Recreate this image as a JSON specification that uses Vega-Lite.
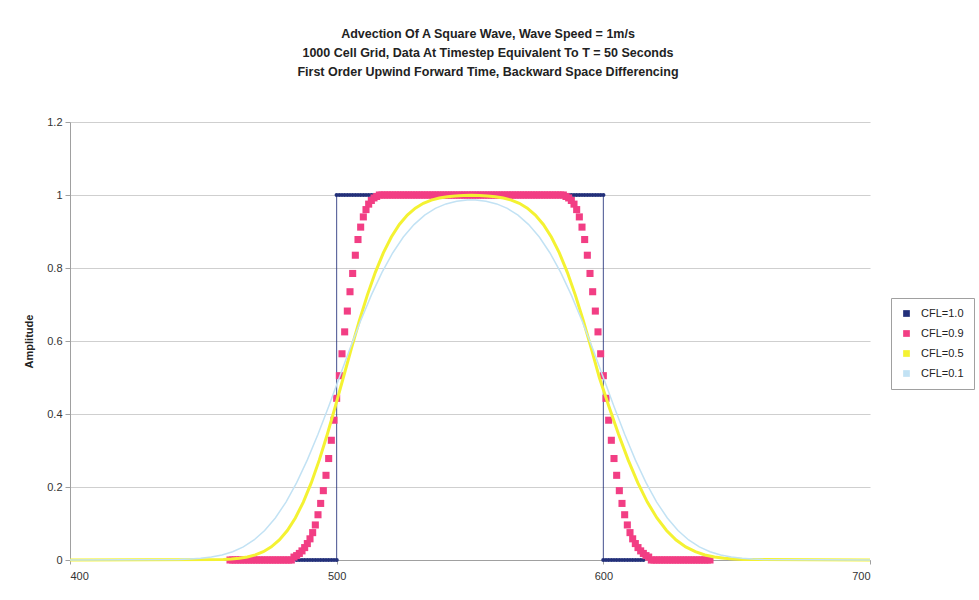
{
  "$schema": "https://vega.github.io/schema/vega-lite/v6.json",
  "width": 800,
  "height": 438,
  "autosize": {"type": "none"},
  "padding": {"left": 70, "top": 122, "right": 109, "bottom": 40},
  "background": "white",
  "title": {
    "text": ["Advection Of A Square Wave, Wave Speed = 1m/s", "1000 Cell Grid, Data At Timestep Equivalent To T = 50 Seconds", "First Order Upwind Forward Time, Backward Space Differencing"],
    "anchor": "middle", "frame": "group", "dx": 18, "offset": 38,
    "font": "Liberation Sans", "fontSize": 12.5, "fontWeight": "bold", "color": "#222222", "lineHeight": 19
  },
  "datasets": {
    "d10": [
      {"k":0,"x":485,"y":0},{"k":1,"x":486,"y":0},{"k":2,"x":487,"y":0},{"k":3,"x":488,"y":0},{"k":4,"x":489,"y":0},{"k":5,"x":490,"y":0},{"k":6,"x":491,"y":0},{"k":7,"x":492,"y":0},{"k":8,"x":493,"y":0},{"k":9,"x":494,"y":0},{"k":10,"x":495,"y":0},{"k":11,"x":496,"y":0},{"k":12,"x":497,"y":0},{"k":13,"x":498,"y":0},{"k":14,"x":499,"y":0},{"k":15,"x":500,"y":0},
      {"k":16,"x":500,"y":1},{"k":17,"x":501,"y":1},{"k":18,"x":502,"y":1},{"k":19,"x":503,"y":1},{"k":20,"x":504,"y":1},{"k":21,"x":505,"y":1},{"k":22,"x":506,"y":1},{"k":23,"x":507,"y":1},{"k":24,"x":508,"y":1},{"k":25,"x":509,"y":1},{"k":26,"x":510,"y":1},{"k":27,"x":511,"y":1},{"k":28,"x":512,"y":1},{"k":29,"x":513,"y":1},{"k":30,"x":514,"y":1},{"k":31,"x":515,"y":1},{"k":32,"x":516,"y":1},{"k":33,"x":517,"y":1},{"k":34,"x":518,"y":1},{"k":35,"x":519,"y":1},{"k":36,"x":520,"y":1},{"k":37,"x":521,"y":1},{"k":38,"x":522,"y":1},{"k":39,"x":523,"y":1},{"k":40,"x":524,"y":1},{"k":41,"x":525,"y":1},{"k":42,"x":526,"y":1},{"k":43,"x":527,"y":1},{"k":44,"x":528,"y":1},{"k":45,"x":529,"y":1},{"k":46,"x":530,"y":1},{"k":47,"x":531,"y":1},{"k":48,"x":532,"y":1},{"k":49,"x":533,"y":1},{"k":50,"x":534,"y":1},{"k":51,"x":535,"y":1},{"k":52,"x":536,"y":1},{"k":53,"x":537,"y":1},{"k":54,"x":538,"y":1},{"k":55,"x":539,"y":1},{"k":56,"x":540,"y":1},{"k":57,"x":541,"y":1},{"k":58,"x":542,"y":1},{"k":59,"x":543,"y":1},{"k":60,"x":544,"y":1},{"k":61,"x":545,"y":1},{"k":62,"x":546,"y":1},{"k":63,"x":547,"y":1},{"k":64,"x":548,"y":1},{"k":65,"x":549,"y":1},{"k":66,"x":550,"y":1},{"k":67,"x":551,"y":1},{"k":68,"x":552,"y":1},{"k":69,"x":553,"y":1},{"k":70,"x":554,"y":1},{"k":71,"x":555,"y":1},{"k":72,"x":556,"y":1},{"k":73,"x":557,"y":1},{"k":74,"x":558,"y":1},{"k":75,"x":559,"y":1},{"k":76,"x":560,"y":1},{"k":77,"x":561,"y":1},{"k":78,"x":562,"y":1},{"k":79,"x":563,"y":1},{"k":80,"x":564,"y":1},{"k":81,"x":565,"y":1},{"k":82,"x":566,"y":1},{"k":83,"x":567,"y":1},{"k":84,"x":568,"y":1},{"k":85,"x":569,"y":1},{"k":86,"x":570,"y":1},{"k":87,"x":571,"y":1},{"k":88,"x":572,"y":1},{"k":89,"x":573,"y":1},{"k":90,"x":574,"y":1},{"k":91,"x":575,"y":1},{"k":92,"x":576,"y":1},{"k":93,"x":577,"y":1},{"k":94,"x":578,"y":1},{"k":95,"x":579,"y":1},{"k":96,"x":580,"y":1},{"k":97,"x":581,"y":1},{"k":98,"x":582,"y":1},{"k":99,"x":583,"y":1},{"k":100,"x":584,"y":1},{"k":101,"x":585,"y":1},{"k":102,"x":586,"y":1},{"k":103,"x":587,"y":1},{"k":104,"x":588,"y":1},{"k":105,"x":589,"y":1},{"k":106,"x":590,"y":1},{"k":107,"x":591,"y":1},{"k":108,"x":592,"y":1},{"k":109,"x":593,"y":1},{"k":110,"x":594,"y":1},{"k":111,"x":595,"y":1},{"k":112,"x":596,"y":1},{"k":113,"x":597,"y":1},{"k":114,"x":598,"y":1},{"k":115,"x":599,"y":1},{"k":116,"x":600,"y":1},
      {"k":117,"x":600,"y":0},{"k":118,"x":601,"y":0},{"k":119,"x":602,"y":0},{"k":120,"x":603,"y":0},{"k":121,"x":604,"y":0},{"k":122,"x":605,"y":0},{"k":123,"x":606,"y":0},{"k":124,"x":607,"y":0},{"k":125,"x":608,"y":0},{"k":126,"x":609,"y":0},{"k":127,"x":610,"y":0},{"k":128,"x":611,"y":0},{"k":129,"x":612,"y":0},{"k":130,"x":613,"y":0},{"k":131,"x":614,"y":0},{"k":132,"x":615,"y":0}
    ],
    "d09": [
      {"x":460,"y":0},{"x":461,"y":0},{"x":462,"y":0},{"x":463,"y":0},{"x":464,"y":0},{"x":465,"y":0},{"x":466,"y":0},{"x":467,"y":0},{"x":468,"y":0},{"x":469,"y":0},{"x":470,"y":0},{"x":471,"y":0},{"x":472,"y":0},{"x":473,"y":0},{"x":474,"y":0},{"x":475,"y":0},{"x":476,"y":0},{"x":477,"y":0},{"x":478,"y":0},{"x":479,"y":0},{"x":480,"y":0},{"x":481,"y":0},{"x":482,"y":0},{"x":483,"y":0},
      {"x":484,"y":0.008},{"x":485,"y":0.012},{"x":486,"y":0.018},{"x":487,"y":0.025},{"x":488,"y":0.034},{"x":489,"y":0.045},{"x":490,"y":0.058},{"x":491,"y":0.075},{"x":492,"y":0.096},{"x":493,"y":0.124},{"x":494,"y":0.155},{"x":495,"y":0.19},{"x":496,"y":0.232},{"x":497,"y":0.278},{"x":498,"y":0.328},{"x":499,"y":0.383},{"x":500,"y":0.443},{"x":501,"y":0.505},{"x":502,"y":0.565},{"x":503,"y":0.625},{"x":504,"y":0.682},{"x":505,"y":0.735},{"x":506,"y":0.785},{"x":507,"y":0.835},{"x":508,"y":0.878},{"x":509,"y":0.912},{"x":510,"y":0.94},{"x":511,"y":0.96},{"x":512,"y":0.975},{"x":513,"y":0.985},{"x":514,"y":0.992},{"x":515,"y":0.996},{"x":516,"y":1},
      {"x":517,"y":1},{"x":518,"y":1},{"x":519,"y":1},{"x":520,"y":1},{"x":521,"y":1},{"x":522,"y":1},{"x":523,"y":1},{"x":524,"y":1},{"x":525,"y":1},{"x":526,"y":1},{"x":527,"y":1},{"x":528,"y":1},{"x":529,"y":1},{"x":530,"y":1},{"x":531,"y":1},{"x":532,"y":1},{"x":533,"y":1},{"x":534,"y":1},{"x":535,"y":1},{"x":536,"y":1},{"x":537,"y":1},{"x":538,"y":1},{"x":539,"y":1},{"x":540,"y":1},{"x":541,"y":1},{"x":542,"y":1},{"x":543,"y":1},{"x":544,"y":1},{"x":545,"y":1},{"x":546,"y":1},{"x":547,"y":1},{"x":548,"y":1},{"x":549,"y":1},{"x":550,"y":1},{"x":551,"y":1},{"x":552,"y":1},{"x":553,"y":1},{"x":554,"y":1},{"x":555,"y":1},{"x":556,"y":1},{"x":557,"y":1},{"x":558,"y":1},{"x":559,"y":1},{"x":560,"y":1},{"x":561,"y":1},{"x":562,"y":1},{"x":563,"y":1},{"x":564,"y":1},{"x":565,"y":1},{"x":566,"y":1},{"x":567,"y":1},{"x":568,"y":1},{"x":569,"y":1},{"x":570,"y":1},{"x":571,"y":1},{"x":572,"y":1},{"x":573,"y":1},{"x":574,"y":1},{"x":575,"y":1},{"x":576,"y":1},{"x":577,"y":1},{"x":578,"y":1},{"x":579,"y":1},{"x":580,"y":1},{"x":581,"y":1},{"x":582,"y":1},{"x":583,"y":1},{"x":584,"y":1},
      {"x":585,"y":1},{"x":586,"y":0.996},{"x":587,"y":0.992},{"x":588,"y":0.985},{"x":589,"y":0.975},{"x":590,"y":0.96},{"x":591,"y":0.94},{"x":592,"y":0.912},{"x":593,"y":0.878},{"x":594,"y":0.835},{"x":595,"y":0.785},{"x":596,"y":0.735},{"x":597,"y":0.682},{"x":598,"y":0.625},{"x":599,"y":0.565},{"x":600,"y":0.505},{"x":601,"y":0.443},{"x":602,"y":0.383},{"x":603,"y":0.328},{"x":604,"y":0.278},{"x":605,"y":0.232},{"x":606,"y":0.19},{"x":607,"y":0.155},{"x":608,"y":0.124},{"x":609,"y":0.096},{"x":610,"y":0.075},{"x":611,"y":0.058},{"x":612,"y":0.045},{"x":613,"y":0.034},{"x":614,"y":0.025},{"x":615,"y":0.018},{"x":616,"y":0.012},{"x":617,"y":0.008},
      {"x":618,"y":0},{"x":619,"y":0},{"x":620,"y":0},{"x":621,"y":0},{"x":622,"y":0},{"x":623,"y":0},{"x":624,"y":0},{"x":625,"y":0},{"x":626,"y":0},{"x":627,"y":0},{"x":628,"y":0},{"x":629,"y":0},{"x":630,"y":0},{"x":631,"y":0},{"x":632,"y":0},{"x":633,"y":0},{"x":634,"y":0},{"x":635,"y":0},{"x":636,"y":0},{"x":637,"y":0},{"x":638,"y":0},{"x":639,"y":0},{"x":640,"y":0}
    ],
    "d05": [
      {"x":400,"y":0},{"x":457.5,"y":0.0013},{"x":460.5,"y":0.0026},{"x":463.5,"y":0.0047},{"x":466.5,"y":0.0082},{"x":469.5,"y":0.0139},{"x":472.5,"y":0.0228},{"x":475.5,"y":0.0359},{"x":478.5,"y":0.0548},{"x":481.5,"y":0.0808},{"x":484.5,"y":0.1151},{"x":487.5,"y":0.1587},{"x":490.5,"y":0.2119},{"x":493.5,"y":0.2743},{"x":496.5,"y":0.3446},{"x":499.5,"y":0.4207},{"x":502.5,"y":0.5},{"x":505.5,"y":0.5793},{"x":508.5,"y":0.6554},{"x":511.5,"y":0.7257},{"x":514.5,"y":0.7881},{"x":517.5,"y":0.8413},{"x":520.5,"y":0.8849},{"x":523.5,"y":0.9192},{"x":526.5,"y":0.9452},{"x":529.5,"y":0.9641},{"x":532.5,"y":0.9772},{"x":535.5,"y":0.9861},{"x":538.5,"y":0.9918},{"x":541.5,"y":0.9953},{"x":544.5,"y":0.9974},{"x":547.5,"y":0.9987},{"x":550.5,"y":0.9993},
      {"x":553.5,"y":0.9987},{"x":556.5,"y":0.9974},{"x":559.5,"y":0.9953},{"x":562.5,"y":0.9918},{"x":565.5,"y":0.9861},{"x":568.5,"y":0.9772},{"x":571.5,"y":0.9641},{"x":574.5,"y":0.9452},{"x":577.5,"y":0.9192},{"x":580.5,"y":0.8849},{"x":583.5,"y":0.8413},{"x":586.5,"y":0.7881},{"x":589.5,"y":0.7257},{"x":592.5,"y":0.6554},{"x":595.5,"y":0.5793},{"x":598.5,"y":0.5},
      {"x":602.1,"y":0.4207},{"x":605.7,"y":0.3446},{"x":609.3,"y":0.2743},{"x":612.9,"y":0.2119},{"x":616.5,"y":0.1587},{"x":620.1,"y":0.1151},{"x":623.7,"y":0.0808},{"x":627.3,"y":0.0548},{"x":630.9,"y":0.0359},{"x":634.5,"y":0.0228},{"x":638.1,"y":0.0139},{"x":641.7,"y":0.0082},{"x":645.3,"y":0.0047},{"x":648.9,"y":0.0026},{"x":652.5,"y":0.0013},{"x":700,"y":0}
    ],
    "d01": [
      {"x":400,"y":0},{"x":441,"y":0.0013},{"x":445,"y":0.0026},{"x":449,"y":0.0047},{"x":453,"y":0.0082},{"x":457,"y":0.0139},{"x":461,"y":0.0228},{"x":465,"y":0.0359},{"x":469,"y":0.0548},{"x":473,"y":0.0808},{"x":477,"y":0.1151},{"x":481,"y":0.1587},{"x":485,"y":0.2119},{"x":489,"y":0.2743},{"x":493,"y":0.3446},{"x":497,"y":0.4207},{"x":501,"y":0.5},{"x":505,"y":0.5793},{"x":509,"y":0.6554},{"x":513,"y":0.7257},{"x":517,"y":0.7881},{"x":521,"y":0.8412},{"x":525,"y":0.8848},{"x":529,"y":0.919},{"x":533,"y":0.9447},{"x":537,"y":0.9632},{"x":541,"y":0.9756},{"x":545,"y":0.9831},{"x":549,"y":0.9864},
      {"x":552,"y":0.9864},{"x":556,"y":0.9831},{"x":560,"y":0.9756},{"x":564,"y":0.9632},{"x":568,"y":0.9447},{"x":572,"y":0.919},{"x":576,"y":0.8848},{"x":580,"y":0.8412},{"x":584,"y":0.7881},{"x":588,"y":0.7257},{"x":592,"y":0.6554},{"x":596,"y":0.5793},{"x":600,"y":0.5},{"x":604,"y":0.4207},{"x":608,"y":0.3446},{"x":612,"y":0.2743},{"x":616,"y":0.2119},{"x":620,"y":0.1587},{"x":624,"y":0.1151},{"x":628,"y":0.0808},{"x":632,"y":0.0548},{"x":636,"y":0.0359},{"x":640,"y":0.0228},{"x":644,"y":0.0139},{"x":648,"y":0.0082},{"x":652,"y":0.0047},{"x":656,"y":0.0026},{"x":660,"y":0.0013},{"x":700,"y":0}
    ]
  },
  "layer": [
    {
      "data": {"name": "d10"},
      "mark": {"type": "line", "strokeWidth": 1, "opacity": 0.85},
      "encoding": {
        "x": {"field": "x", "type": "quantitative", "scale": {"domain": [400, 700], "nice": false},
              "axis": {"values": [400, 500, 600, 700], "grid": false, "title": null, "tickSize": 4, "labelPadding": 6}},
        "y": {"field": "y", "type": "quantitative", "scale": {"domain": [0, 1.2], "nice": false},
              "axis": {"values": [0, 0.2, 0.4, 0.6, 0.8, 1, 1.2], "format": "~g", "grid": true, "title": "Amplitude", "tickSize": 5, "labelPadding": 3, "titlePadding": 12}},
        "color": {
          "datum": "CFL=1.0", "type": "nominal",
          "scale": {"domain": ["CFL=1.0", "CFL=0.9", "CFL=0.5", "CFL=0.1"], "range": ["#23307A", "#F23E84", "#F4F232", "#C2E2F4"]},
          "legend": {
            "orient": "none", "legendX": 821, "legendY": 176, "title": null,
            "labelFont": "Liberation Sans", "labelFontSize": 11, "labelColor": "#222222",
            "strokeColor": "#A0A0A0", "padding": 10, "rowPadding": 8, "symbolSize": 45, "labelOffset": 9,
            "symbolType": "square", "symbolStrokeWidth": 0, "symbolOpacity": 1
          }
        },
        "order": {"field": "k"}
      }
    },
    {
      "data": {"name": "d10"},
      "mark": {"type": "point", "shape": "circle", "filled": true, "size": 18, "opacity": 1},
      "encoding": {
        "x": {"field": "x", "type": "quantitative"},
        "y": {"field": "y", "type": "quantitative"},
        "color": {"datum": "CFL=1.0", "type": "nominal", "legend": null}
      }
    },
    {
      "data": {"name": "d09"},
      "mark": {"type": "point", "shape": "square", "filled": true, "size": 50, "opacity": 1},
      "encoding": {
        "x": {"field": "x", "type": "quantitative"},
        "y": {"field": "y", "type": "quantitative"},
        "color": {"datum": "CFL=0.9", "type": "nominal", "legend": null}
      }
    },
    {
      "data": {"name": "d05"},
      "mark": {"type": "line", "strokeWidth": 3, "opacity": 1},
      "encoding": {
        "x": {"field": "x", "type": "quantitative"},
        "y": {"field": "y", "type": "quantitative"},
        "color": {"datum": "CFL=0.5", "type": "nominal", "legend": null}
      }
    },
    {
      "data": {"name": "d01"},
      "mark": {"type": "line", "strokeWidth": 1.5, "opacity": 1},
      "encoding": {
        "x": {"field": "x", "type": "quantitative"},
        "y": {"field": "y", "type": "quantitative"},
        "color": {"datum": "CFL=0.1", "type": "nominal", "legend": null}
      }
    }
  ],
  "config": {
    "view": {"stroke": null},
    "font": "Liberation Sans",
    "axis": {
      "labelFont": "Liberation Sans", "labelFontSize": 11, "labelColor": "#333333",
      "titleFont": "Liberation Sans", "titleFontSize": 11, "titleFontWeight": "bold", "titleColor": "#222222",
      "domainColor": "#A0A0A0", "tickColor": "#A0A0A0", "gridColor": "#CFCFCF", "gridWidth": 1
    }
  }
}
